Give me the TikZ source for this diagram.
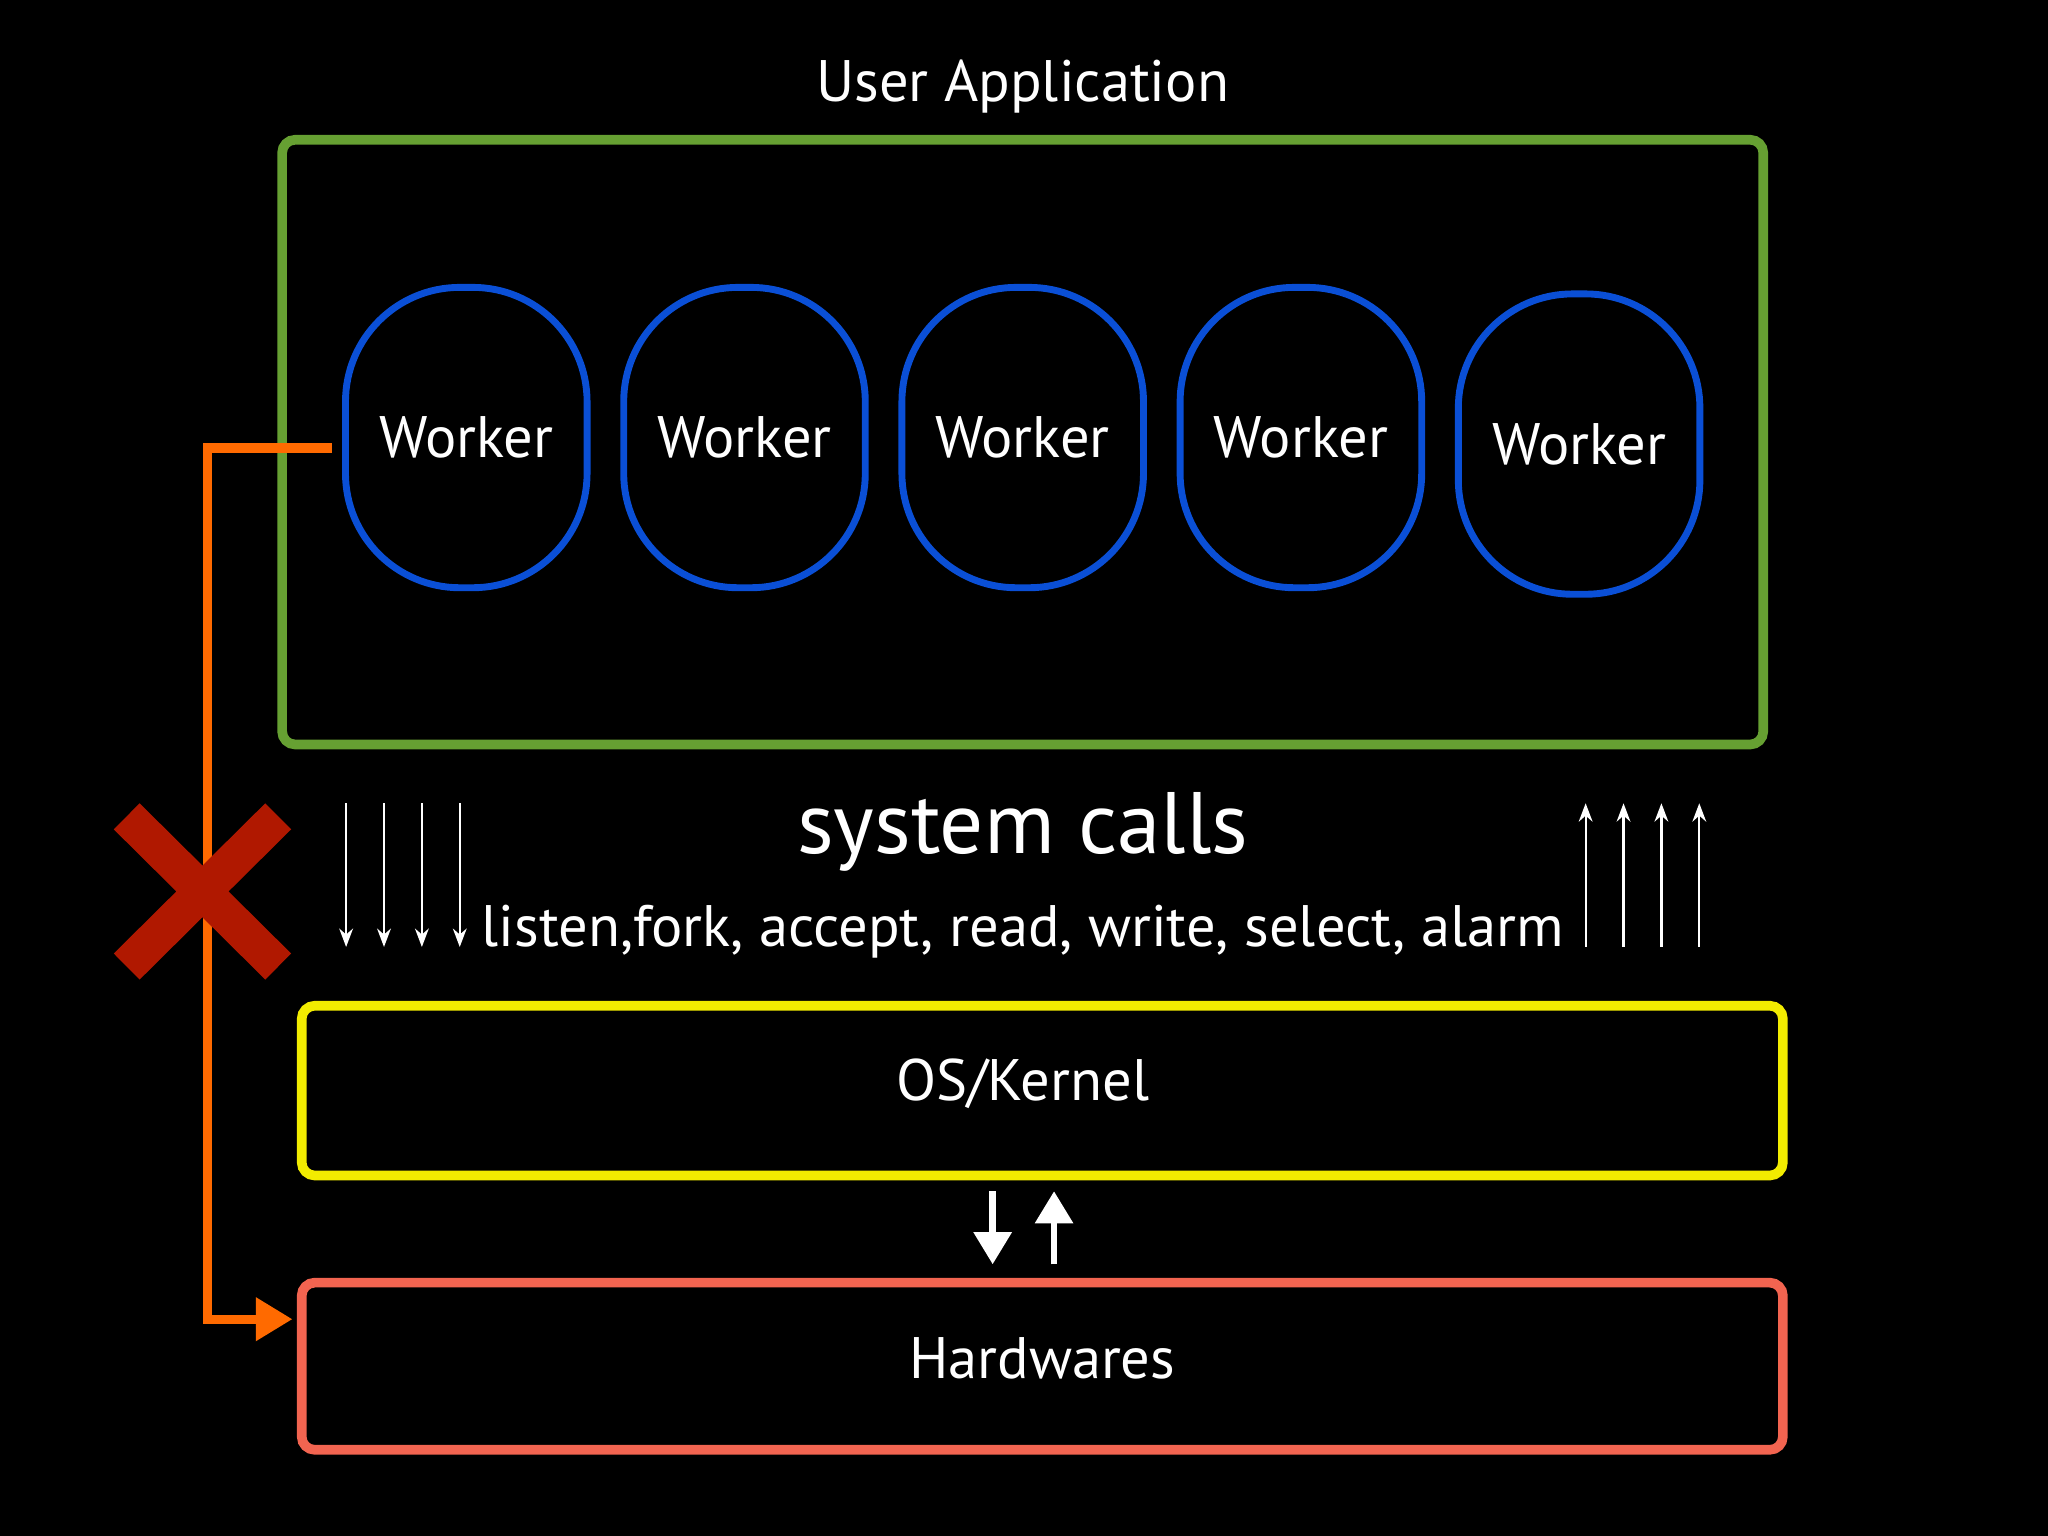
\documentclass[tikz,border=0pt]{standalone}
\usepackage{fontspec}
\setmainfont{PT Sans}
\usetikzlibrary{arrows.meta}
\definecolor{grn}{HTML}{66A032}
\definecolor{blu}{HTML}{0A4FD6}
\definecolor{org}{HTML}{FF6A00}
\definecolor{xred}{HTML}{B01800}
\definecolor{yel}{HTML}{F2EC00}
\definecolor{hred}{HTML}{F26450}
\begin{document}
\begin{tikzpicture}[x=0.02cm,y=-0.02cm,
  worker/.style={draw=blu,line width=3pt,rounded corners=1.75cm,minimum width=3.7cm,minimum height=4.6cm,text=white,font=\fontsize{25.5}{28}\selectfont,inner sep=0pt},
  box/.style={line width=4.2pt,rounded corners=0.2cm},
  lbl/.style={text=white,font=\fontsize{25.5}{28}\selectfont},
  thin/.style={draw=white,line width=1pt,-{Stealth[length=8pt,width=6pt]}},
  thick/.style={draw=white,line width=3pt,-{Triangle[length=14pt,width=16pt]}}]
\fill[black] (0,0) rectangle (1568,1176);
\useasboundingbox (0,0) rectangle (1568,1176);
\node[lbl] (ua) at (783,66) {User Application};
\draw[box,draw=grn] (216,107) rectangle (1350,570);
\node[worker] (w1) at (357,335) {Worker};
\node[worker] (w2) at (570,335) {Worker};
\node[worker] (w3) at (783,335) {Worker};
\node[worker] (w4) at (996,335) {Worker};
\node[worker] (w5) at (1209,340) {Worker};
\node[text=white,font=\fontsize{38}{42}\selectfont] (sc) at (783,637) {system calls};
\node[lbl] (calls) at (783,713) {listen,fork, accept, read, write, select, alarm};
\foreach \x in {265,294,323,352} {\coordinate (d\x a) at (\x,615); \coordinate (d\x b) at (\x,725); \draw[thin] (d\x a) -- (d\x b);}
\foreach \x in {1214,1243,1272,1301} {\coordinate (u\x a) at (\x,725); \coordinate (u\x b) at (\x,615); \draw[thin] (u\x a) -- (u\x b);}
\draw[box,draw=yel] (231,770) rectangle (1365,900);
\node[lbl] (os) at (783,830) {OS/Kernel};
\draw[box,draw=hred] (231,982) rectangle (1365,1110);
\node[lbl] (hw) at (798,1040) {Hardwares};
\coordinate (ka) at (760,912); \coordinate (kb) at (760,968);
\coordinate (kc) at (807,968); \coordinate (kd) at (807,912);
\draw[thick] (ka) -- (kb);
\draw[thick] (kc) -- (kd);
\coordinate (os1) at (254,343); \coordinate (os2) at (159,343); \coordinate (os3) at (159,1010); \coordinate (os4) at (224,1010);
\draw[org,line width=4pt,-{Triangle[length=16pt,width=18pt]}] (os1) -- (os2) -- (os3) -- (os4);
\draw[xred,line width=16pt] (97,625) -- (213,740) (213,625) -- (97,740);
\end{tikzpicture}
\end{document}
